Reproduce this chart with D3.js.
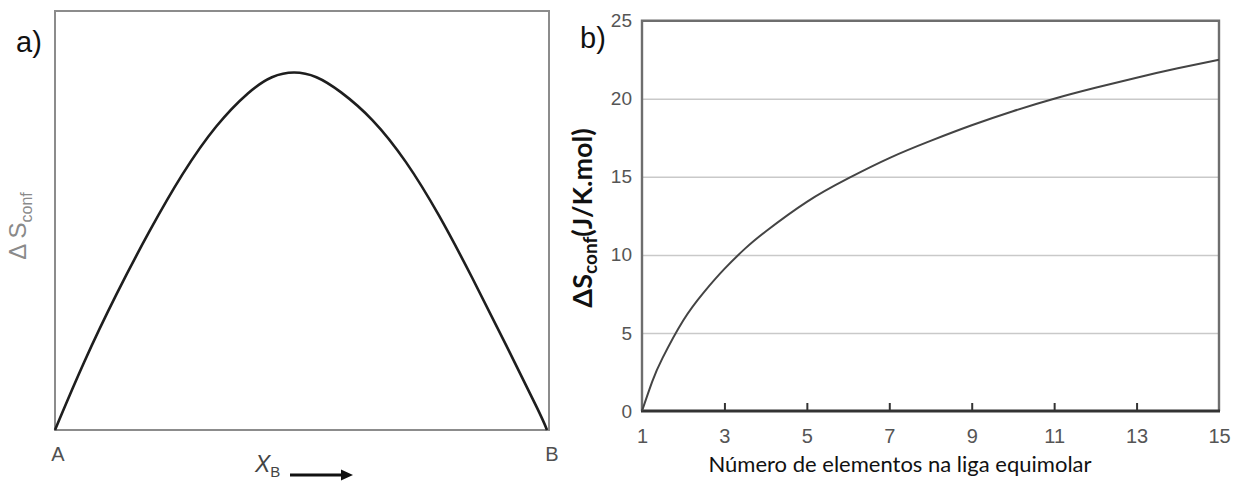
<!DOCTYPE html>
<html>
<head>
<meta charset="utf-8">
<script src="https://cdn.jsdelivr.net/npm/d3@7"></script>
<style>
  body { margin: 0; background: #fff; }
  svg { display: block; }
</style>
</head>
<body>
<div id="chart"></div>
<script>
// panel a) : relative configurational entropy vs X_B (normalised 0..1)
const mixX = [0, 0.057, 0.125, 0.192, 0.259, 0.327, 0.395, 0.44, 0.485, 0.53, 0.577, 0.644, 0.712, 0.779, 0.846, 0.914, 0.988, 0.998];
const mixS = [0, 0.160, 0.327, 0.477, 0.615, 0.730, 0.811, 0.846, 0.857, 0.846, 0.811, 0.745, 0.644, 0.515, 0.365, 0.205, 0.030, 0];

// panel b) : ΔSconf (J/K.mol) vs number of elements
const nElem = [1, 1.25, 1.5, 2, 2.5, 3, 3.5, 4, 5, 6, 7, 8, 9, 10, 11, 12, 13, 14, 15];
const sConf = [0, 1.9, 3.4, 5.8, 7.6, 9.1, 10.4, 11.5, 13.4, 14.9, 16.2, 17.3, 18.3, 19.2, 20.0, 20.7, 21.35, 21.95, 22.5];

const xTicksB = [1, 3, 5, 7, 9, 11, 13, 15];
const yTicksB = [0, 5, 10, 15, 20, 25];

const W = 1243, H = 481;

const svg = d3.select("#chart")
              .append("svg")
              .attr("width", W)
              .attr("height", H);

// ---------- panel a ----------
const xA = d3.scaleLinear().domain([0, 1]).range([55, 548]);
const yA = d3.scaleLinear().domain([0, 1]).range([430, 11]);

svg.append("rect")
   .attr("x", 55).attr("y", 11)
   .attr("width", 494).attr("height", 419)
   .attr("fill", "none")
   .attr("stroke", "#8c8c8c")
   .attr("stroke-width", 2);

const lineA = d3.line()
                .x((d, i) => xA(mixX[i]))
                .y(d => yA(d))
                .curve(d3.curveBasis);

svg.append("path")
   .datum(mixS)
   .attr("d", lineA)
   .attr("fill", "none")
   .attr("stroke", "#1e1e1e")
   .attr("stroke-width", 2.6);

svg.append("text")
   .attr("x", 16).attr("y", 52)
   .style("font-family", "Liberation Sans, Arial, sans-serif")
   .style("font-size", "29px")
   .attr("fill", "#111")
   .text("a)");

const yLabA = svg.append("text")
   .attr("transform", "translate(26,226) rotate(-90)")
   .attr("text-anchor", "middle")
   .style("font-family", "Liberation Sans, Arial, sans-serif")
   .attr("fill", "#8a8a8a");
yLabA.append("tspan").style("font-size", "24px").text("Δ S");
yLabA.append("tspan").style("font-size", "16px").attr("dy", 6).text("conf");

svg.append("text")
   .attr("x", 58).attr("y", 461)
   .attr("text-anchor", "middle")
   .style("font-family", "Liberation Sans, Arial, sans-serif")
   .style("font-size", "20px")
   .attr("fill", "#505050")
   .text("A");

svg.append("text")
   .attr("x", 552).attr("y", 461)
   .attr("text-anchor", "middle")
   .style("font-family", "Liberation Sans, Arial, sans-serif")
   .style("font-size", "20px")
   .attr("fill", "#505050")
   .text("B");

const xLabA = svg.append("text")
   .attr("x", 255).attr("y", 472)
   .style("font-family", "Liberation Sans, Arial, sans-serif")
   .attr("fill", "#444");
xLabA.append("tspan").style("font-size", "23px").style("font-style", "italic").text("X");
xLabA.append("tspan").style("font-size", "15px").attr("dy", 5).text("B");

svg.append("line")
   .attr("x1", 290).attr("x2", 343)
   .attr("y1", 475).attr("y2", 475)
   .attr("stroke", "#111")
   .attr("stroke-width", 3);
svg.append("path")
   .attr("d", "M341,469.5 L353,475 L341,480.5 Z")
   .attr("fill", "#111");

// ---------- panel b ----------
const xB = d3.scaleLinear().domain([1, 15]).range([642, 1219]);
const yB = d3.scaleLinear().domain([0, 25]).range([411, 20.7]);

// gridlines
svg.append("g")
   .attr("transform", "translate(642,0)")
   .call(d3.axisLeft(yB).tickValues([5, 10, 15, 20]).tickSize(-(1219 - 642)).tickFormat(""))
   .call(g => g.select(".domain").remove())
   .call(g => g.selectAll("line").attr("stroke", "#c9c9c9").attr("stroke-width", 1.5));

// frame
svg.append("path")
   .attr("d", `M642,411 V20.7 H1219 V411`)
   .attr("fill", "none")
   .attr("stroke", "#6e6e6e")
   .attr("stroke-width", 2.4);

// y tick labels
svg.append("g")
   .attr("transform", "translate(642,0)")
   .call(d3.axisLeft(yB).tickValues(yTicksB).tickSize(0).tickPadding(10))
   .call(g => g.select(".domain").remove())
   .call(g => g.selectAll("text")
               .style("font-family", "Liberation Sans, Arial, sans-serif")
               .style("font-size", "19px")
               .attr("fill", "#555"));

// x axis: inner ticks + labels
svg.append("g")
   .attr("transform", "translate(0,411)")
   .call(d3.axisTop(xB).tickValues(xTicksB.slice(1, -1)).tickSize(8).tickFormat(""))
   .call(g => g.select(".domain").remove())
   .call(g => g.selectAll("line").attr("stroke", "#333").attr("stroke-width", 2));

svg.append("g")
   .attr("transform", "translate(0,411)")
   .call(d3.axisBottom(xB).tickValues(xTicksB).tickSize(0).tickPadding(18).tickFormat(d3.format("d")))
   .call(g => g.select(".domain").remove())
   .call(g => g.selectAll("text")
               .style("font-family", "Liberation Sans, Arial, sans-serif")
               .style("font-size", "20px")
               .attr("fill", "#555"));

svg.append("line")
   .attr("x1", 641).attr("x2", 1220)
   .attr("y1", 411).attr("y2", 411)
   .attr("stroke", "#333")
   .attr("stroke-width", 3);

const lineB = d3.line()
                .x((d, i) => xB(nElem[i]))
                .y(d => yB(d))
                .curve(d3.curveNatural);

svg.append("path")
   .datum(sConf)
   .attr("d", lineB)
   .attr("fill", "none")
   .attr("stroke", "#444")
   .attr("stroke-width", 2);

svg.append("text")
   .attr("x", 580).attr("y", 48)
   .style("font-family", "Liberation Sans, Arial, sans-serif")
   .style("font-size", "29px")
   .attr("fill", "#111")
   .text("b)");

svg.append("text")
   .attr("x", 900).attr("y", 472)
   .attr("text-anchor", "middle")
   .style("font-family", "Lato, 'Open Sans', sans-serif")
   .style("font-size", "22px")
   .attr("fill", "#111")
   .text("Número de elementos na liga equimolar");

const yLabB = svg.append("text")
   .attr("transform", "translate(592,218) rotate(-90)")
   .attr("text-anchor", "middle")
   .style("font-family", "Lato, 'Open Sans', sans-serif")
   .style("font-weight", "bold")
   .attr("fill", "#111");
yLabB.append("tspan").style("font-size", "27px").text("ΔS");
yLabB.append("tspan").style("font-size", "19px").attr("dy", 5).text("conf");
yLabB.append("tspan").style("font-size", "27px").attr("dy", -5).text("(J/K.mol)");
</script>
</body>
</html>
